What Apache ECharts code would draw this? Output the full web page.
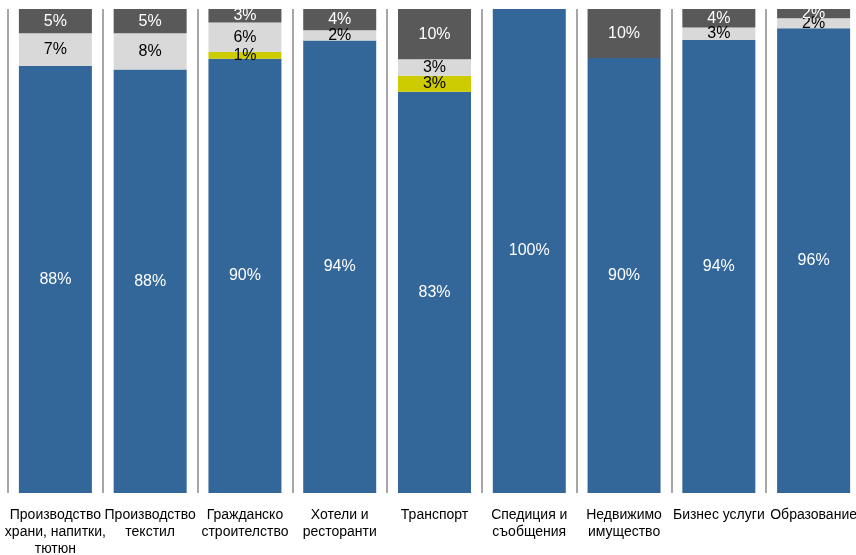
<!DOCTYPE html>
<html><head><meta charset="utf-8">
<script src="https://cdn.jsdelivr.net/npm/echarts@6/dist/echarts.min.js"></script>
<style>html,body{margin:0;padding:0;background:#fff}#c{width:856px;height:555px}</style>
</head><body><div id="c"></div>
<script>
const categories = [
  "Производство\nхрани, напитки,\nтютюн",
  "Производство\nтекстил",
  "Гражданско\nстроителство",
  "Хотели и\nресторанти",
  "Транспорт",
  "Спедиция и\nсъобщения",
  "Недвижимо\nимущество",
  "Бизнес услуги",
  "Образование"
];
const seriesBlue   = [88.2, 87.5, 89.7, 93.5, 82.9, 100, 89.9, 93.6, 96.0];
const seriesYellow = [0, 0, 1.4, 0, 3.3, 0, 0, 0, 0];
const seriesLight  = [6.8, 7.5, 6.1, 2.1, 3.4, 0, 0, 2.6, 2.1];
const seriesDark   = [5.0, 5.0, 2.8, 4.4, 10.4, 0, 10.1, 3.8, 1.9];

const FONT = "'Liberation Sans', Arial, sans-serif";
function mk(name, data, color, txt) {
  return {
    name, type: 'bar', stack: 'total', data, barWidth: 73,
    itemStyle: { color },
    label: {
      show: true, position: 'inside', color: txt, fontFamily: FONT, fontSize: 16,
      formatter: p => p.value > 0 ? Math.round(p.value) + '%' : ''
    }
  };
}
const chart = echarts.init(document.getElementById('c'), null, { renderer: 'canvas' });
chart.setOption({
  animation: false,
  grid: { left: 8, right: -5, top: 9, bottom: 62, containLabel: false, outerBoundsMode: 'none' },
  xAxis: {
    type: 'category', data: categories,
    axisLine: { show: false }, axisTick: { show: false },
    splitLine: { show: true, interval: 0, lineStyle: { color: '#a6a6a6', width: 2 } },
    axisLabel: { interval: 0, color: '#000', fontFamily: FONT, fontSize: 14, lineHeight: 17, margin: 14, hideOverlap: false }
  },
  yAxis: { type: 'value', min: 0, max: 100, show: false, splitLine: { show: false } },
  series: [
    mk('a', seriesBlue, '#336699', '#fff'),
    mk('b', seriesYellow, '#cccc00', '#000'),
    mk('c', seriesLight, '#d9d9d9', '#000'),
    mk('d', seriesDark, '#595959', '#fff')
  ]
});
</script></body></html>
